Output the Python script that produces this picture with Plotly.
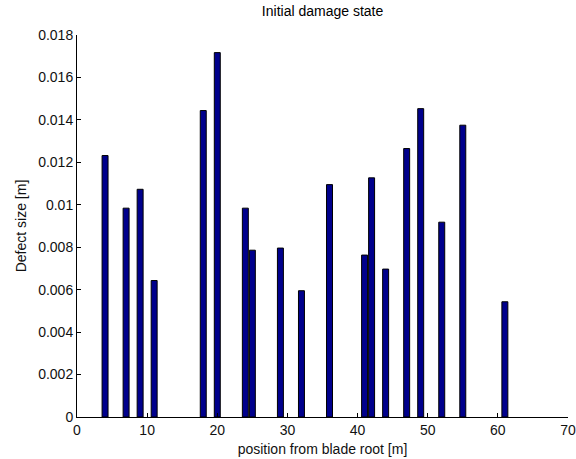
import plotly.graph_objects as go

positions = [4, 7, 9, 11, 18, 20, 24, 25, 29, 32, 36, 41, 42, 44, 47, 49, 52, 55, 61]
defect_size = [0.01232, 0.00984, 0.01073, 0.00643, 0.01444, 0.01717, 0.00984, 0.00786,
               0.00796, 0.00595, 0.01095, 0.00763, 0.01127, 0.00697, 0.01265, 0.01453,
               0.00918, 0.01375, 0.00543]
x_ticks = [0, 10, 20, 30, 40, 50, 60, 70]
y_ticks = [0, 0.002, 0.004, 0.006, 0.008, 0.01, 0.012, 0.014, 0.016, 0.018]
y_tick_labels = ["0", "0.002", "0.004", "0.006", "0.008", "0.01", "0.012", "0.014", "0.016", "0.018"]

font_family = "Liberation Sans, Arial, sans-serif"

fig = go.Figure()
fig.add_trace(go.Bar(
    x=positions, y=defect_size, width=0.85,
    marker=dict(color="rgb(0,0,140)", line=dict(color="black", width=1)),
))

fig.update_layout(
    width=576, height=459,
    margin=dict(l=77, r=8, t=35, b=42, autoexpand=False),
    paper_bgcolor="white", plot_bgcolor="white",
    showlegend=False,
    title=dict(text="Initial damage state", x=0.56, xanchor="center", y=0.986, yanchor="top",
               font=dict(family=font_family, size=14, color="#000")),
    font=dict(family=font_family, size=14, color="#111"),
)
fig.update_xaxes(
    range=[0, 70], tickvals=x_ticks, ticks="inside", ticklen=4, tickcolor="black",
    showline=True, linecolor="black", linewidth=1, showgrid=False, zeroline=False,
    automargin=False,
    title=dict(text="position from blade root [m]", standoff=7, font=dict(size=14)),
    tickfont=dict(size=14),
)
fig.update_yaxes(
    range=[0, 0.018], tickvals=y_ticks, ticktext=y_tick_labels, ticks="inside", ticklen=4,
    tickcolor="black", showline=True, linecolor="black", linewidth=1, showgrid=False,
    zeroline=False, automargin=False,
    title=dict(text="Defect size [m]", standoff=8, font=dict(size=14)),
    tickfont=dict(size=14),
)

fig.write_html("out.html")
